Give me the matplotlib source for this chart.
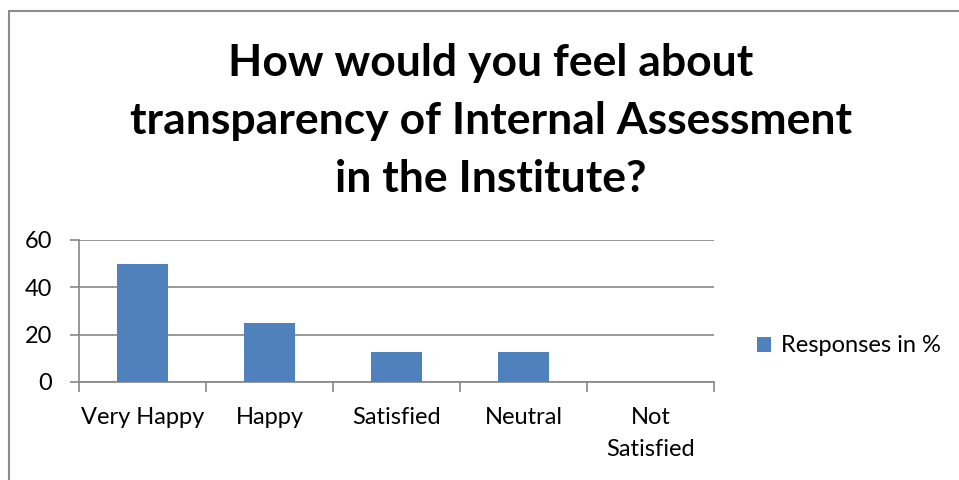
import matplotlib.pyplot as plt
from matplotlib.patches import Rectangle

categories = ["Very Happy", "Happy", "Satisfied", "Neutral", "Not\nSatisfied"]
responses = [50, 25, 12.5, 12.5, 0]
series_name = "Responses in %"
title = "How would you feel about\ntransparency of Internal Assessment\nin the Institute?"

plt.rcParams['font.family'] = ['Lato', 'DejaVu Sans']

fig = plt.figure(figsize=(9.59, 4.8), dpi=100)
ax = fig.add_axes([79 / 959, 1 - 382 / 480, 635 / 959, 142 / 480])

bar_color = '#4f81bd'
grid_color = '#868686'
x = range(len(categories))
ax.bar(x, responses, width=0.4, color=bar_color, label=series_name, zorder=3)

ax.set_xlim(-0.5, len(categories) - 0.5)
ax.set_ylim(0, 60)
ax.set_yticks([0, 20, 40, 60])
ax.set_xticks([i - 0.5 for i in range(len(categories) + 1)], minor=False)
ax.set_xticklabels([])
ax.set_xticks(list(x), minor=True)
ax.set_xticklabels(categories, minor=True, fontsize=17, linespacing=1.65, va='top')
ax.tick_params(axis='x', which='minor', length=0, pad=18)
ax.tick_params(axis='x', which='major', length=7, color=grid_color, width=1.2)
ax.tick_params(axis='y', length=6.5, color=grid_color, width=1.2, labelsize=17, pad=13)

ax.yaxis.grid(True, color=grid_color, linewidth=1.2, zorder=0)
for side in ['top', 'right']:
    ax.spines[side].set_visible(False)
for side in ['left', 'bottom']:
    ax.spines[side].set_color(grid_color)
    ax.spines[side].set_linewidth(1.2)

fig.text(491 / 959, 1 - 121 / 480, title, ha='center', va='center', fontsize=32,
         fontweight='bold', linespacing=1.55)

fig.legend(loc='center left', bbox_to_anchor=(757 / 959, 1 - 346 / 480),
           frameon=False, fontsize=17, handlelength=0.6, handleheight=0.6,
           handletextpad=0.4, borderaxespad=0, borderpad=0)

# outer chart frame, running off the right and bottom edges
fig.patches.append(Rectangle((9 / 959, -0.1), 1.0, 1 - 11 / 480 + 0.1,
                             transform=fig.transFigure, fill=False,
                             edgecolor='#8c8c8c', linewidth=1.5))

fig.savefig('out.png', dpi=100)
